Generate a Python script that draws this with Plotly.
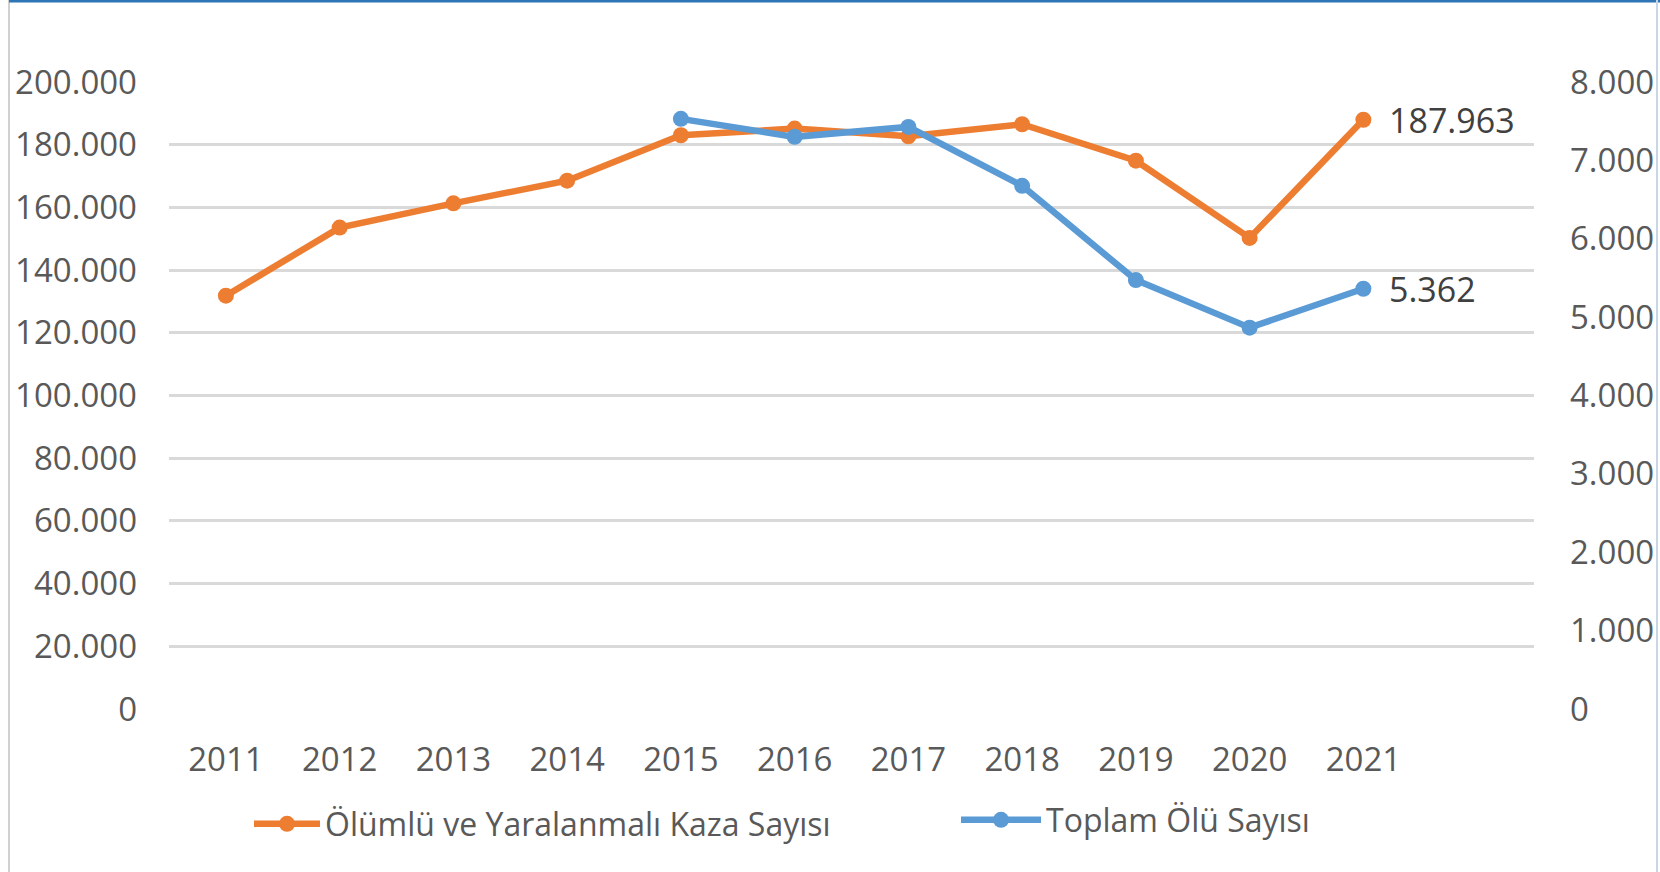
import plotly.graph_objects as go

years = ["2011", "2012", "2013", "2014", "2015", "2016", "2017", "2018", "2019", "2020", "2021"]
kaza = [131845, 153552, 161306, 168512, 183011, 185128, 182669, 186532, 174896, 150275, 187963]
olu = [None, None, None, None, 7530, 7300, 7427, 6675, 5473, 4866, 5362]

name_kaza = "Ölümlü ve Yaralanmalı Kaza Sayısı"
name_olu = "Toplam Ölü Sayısı"

ORANGE = "#ED7D31"
BLUE = "#5B9BD5"
FONT = "Open Sans"
TXT = "#595959"


def fmt(v):
    return f"{v:,}".replace(",", ".")


W, H = 1660, 872
L, R, T, B = 169, 126, 82, 163
pw = W - L - R
ph = H - T - B

fig = go.Figure()
fig.add_trace(go.Scatter(
    x=years, y=kaza, name=name_kaza, mode="lines+markers",
    line=dict(color=ORANGE, width=6.5), marker=dict(size=16, color=ORANGE),
    cliponaxis=False, yaxis="y", legend="legend",
))
fig.add_trace(go.Scatter(
    x=years, y=olu, name=name_olu, mode="lines+markers",
    line=dict(color=BLUE, width=6.5), marker=dict(size=16, color=BLUE),
    cliponaxis=False, yaxis="y2", connectgaps=False, legend="legend2",
))

last = len(years) - 1
annotations = [
    dict(x=last, y=kaza[-1], xref="x", yref="y", text=fmt(kaza[-1]),
         showarrow=False, xanchor="left", yanchor="middle", xshift=24,
         font=dict(family=FONT, size=34, color="#404040")),
    dict(x=last, y=olu[-1], xref="x", yref="y2", text=fmt(olu[-1]),
         showarrow=False, xanchor="left", yanchor="middle", xshift=24,
         font=dict(family=FONT, size=34, color="#404040")),
]

legend_common = dict(
    orientation="h", xanchor="left", yanchor="middle",
    font=dict(family=FONT, size=32, color=TXT),
    bgcolor="rgba(0,0,0,0)",
)

fig.update_layout(
    width=W, height=H,
    margin=dict(l=L, r=R, t=T, b=B, pad=0, autoexpand=False),
    paper_bgcolor="white", plot_bgcolor="white",
    separators=",.",
    font=dict(family=FONT, size=33, color=TXT),
    showlegend=True,
    legend=dict(legend_common, itemwidth=66, x=(249 - L) / pw, y=-(824 - (H - B)) / ph),
    legend2=dict(legend_common, itemwidth=80, x=(956 - L) / pw, y=-(820 - (H - B)) / ph),
    xaxis=dict(
        type="category", range=[-0.5, 11.5], showgrid=False, zeroline=False,
        showline=False, ticks="", tickfont=dict(family=FONT, size=33, color=TXT),
        ticklabelstandoff=28, automargin=False,
    ),
    yaxis=dict(
        range=[0, 200000], dtick=20000, tickformat=",d",
        showgrid=True, gridcolor="#D9D9D9", gridwidth=2.5,
        zeroline=False, showline=False, ticks="",
        tickfont=dict(family=FONT, size=33, color=TXT),
        ticklabelstandoff=31, automargin=False,
    ),
    yaxis2=dict(
        range=[0, 8000], dtick=1000, tickformat=",d", overlaying="y", side="right",
        showgrid=False, zeroline=False, showline=False, ticks="",
        tickfont=dict(family=FONT, size=33, color=TXT),
        ticklabelstandoff=35, automargin=False,
    ),
    annotations=annotations,
    shapes=[
        dict(type="line", xref="paper", yref="paper",
             x0=(9 - L) / pw, x1=(9 - L) / pw, y0=-(H - B) / ph, y1=(H - B) / ph + 0.2,
             line=dict(color="#D0D0D0", width=2)),
        dict(type="line", xref="paper", yref="paper",
             x0=(9 - L) / pw, x1=(W - L) / pw, y0=(H - B - 1) / ph, y1=(H - B - 1) / ph,
             line=dict(color="#2E75B6", width=3)),
        dict(type="line", xref="paper", yref="paper",
             x0=(1657 - L) / pw, x1=(1657 - L) / pw, y0=-(H - B) / ph, y1=(H - B) / ph,
             line=dict(color="#C8D6E5", width=2)),
    ],
)

fig.write_html("out.html", config={"displayModeBar": False},
               post_script="document.body.style.margin='0px';")
